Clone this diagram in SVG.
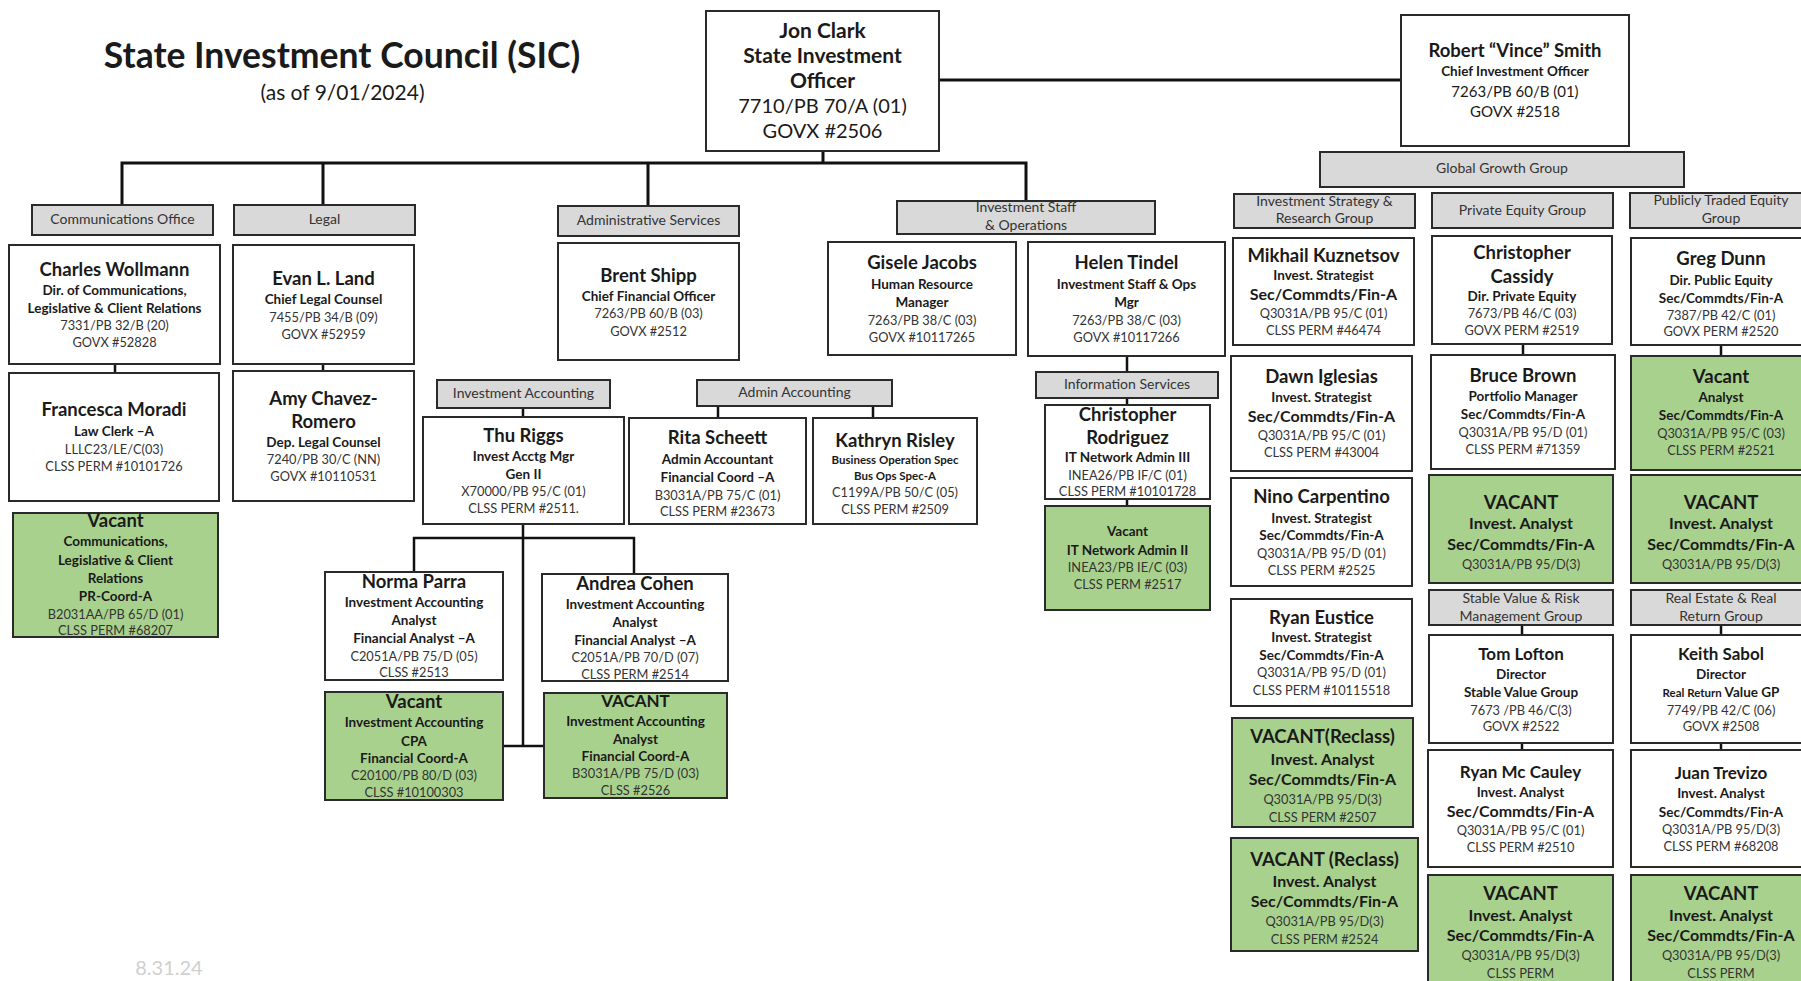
<svg xmlns="http://www.w3.org/2000/svg" width="1801" height="981" viewBox="0 0 1801 981">
<style>
text{font-family:Lato,"Open Sans","Liberation Sans",sans-serif;text-anchor:middle;fill:#1a1a1a}
.n{font-size:18.5px;font-weight:bold}
.n2{font-size:17px;font-weight:bold}
.t{font-size:13.5px;font-weight:bold}
.t2{font-size:16px;font-weight:bold}
.ts{font-size:11.5px;font-weight:bold}
.c{font-size:12.8px;fill:#333}
.h{font-size:14px;fill:#333}
.b{fill:#fff;stroke:#2a2a2a;stroke-width:2}
.g{fill:#a9d18e;stroke:#2a2a2a;stroke-width:2}
.hd{fill:#d9d9d9;stroke:#2a2a2a;stroke-width:2}
.ln{fill:none;stroke:#111;stroke-width:3}
.ln2{fill:none;stroke:#111;stroke-width:2.5}
</style>
<rect width="1801" height="981" fill="#fff"/>
<g id="title">
<text x="342" y="68" style="font-size:35.5px;font-weight:bold">State Investment Council (SIC)</text>
<text x="342.5" y="100" style="font-size:21px">(as of 9/01/2024)</text>
<text x="169" y="975" style="font-size:20px;fill:#cfcfcf">8.31.24</text>
</g>
<g id="connectors">
<path class="ln" d="M823,151V163M122,205V163H1026V201M323,163V205M648,163V206M939,80H1401"/>
<path class="ln2" d="M115,364V373M323,364V371M523,408V417M718,406V418M873,406V418M523,524V746M414,572V538H634V574M503,746H545M1127,356V372M1127,398V405M1127,499V506M1523,344V355M1721,345V356M1522,625V635M1522,743V750M1721,625V635M1721,743V750"/>
</g>
<g id="jon-clark"><rect class="b" x="706" y="11" width="233" height="140"/>
<text x="822.5" y="38" style="font-size:21px;font-weight:bold">Jon Clark</text>
<text x="822.5" y="63" style="font-size:21px;font-weight:bold">State Investment</text>
<text x="822.5" y="88" style="font-size:21px;font-weight:bold">Officer</text>
<text x="822.5" y="113" style="font-size:20px">7710/PB 70/A (01)</text>
<text x="822.5" y="138" style="font-size:20px">GOVX #2506</text></g>
<g id="robert-smith"><rect class="b" x="1401" y="15" width="228" height="131"/>
<text x="1515" y="57" class="n">Robert “Vince” Smith</text>
<text x="1515" y="76" class="t">Chief Investment Officer</text>
<text x="1515" y="97" style="font-size:15px">7263/PB 60/B (01)</text>
<text x="1515" y="117" style="font-size:15px">GOVX #2518</text></g>
<g id="hdr-comms"><rect class="hd" x="32" y="205" width="181" height="30"/><text x="122.5" y="224" class="h">Communications Office</text></g>
<g id="hdr-legal"><rect class="hd" x="234" y="205" width="181" height="30"/><text x="324.5" y="224" class="h">Legal</text></g>
<g id="hdr-admin"><rect class="hd" x="558" y="206" width="181" height="30"/><text x="648.5" y="225" class="h">Administrative Services</text></g>
<g id="hdr-invstaff"><rect class="hd" x="897" y="201" width="258" height="33"/><text x="1026" y="212" class="h">Investment Staff</text><text x="1026" y="230" class="h">&amp; Operations</text></g>
<g id="hdr-global"><rect class="hd" x="1320" y="152" width="364" height="35"/><text x="1502" y="173" class="h">Global Growth Group</text></g>
<g id="hdr-strategy"><rect class="hd" x="1234" y="194" width="181" height="34"/><text x="1324.5" y="206" class="h">Investment Strategy &amp;</text><text x="1324.5" y="223" class="h">Research Group</text></g>
<g id="hdr-pe"><rect class="hd" x="1432" y="193" width="181" height="35"/><text x="1522.5" y="215" class="h">Private Equity Group</text></g>
<g id="hdr-pt"><rect class="hd" x="1630" y="193" width="182" height="35"/><text x="1721" y="205" class="h">Publicly Traded Equity</text><text x="1721" y="223" class="h">Group</text></g>
<g id="hdr-invacc"><rect class="hd" x="437" y="380" width="173" height="28"/><text x="523.5" y="398" class="h">Investment Accounting</text></g>
<g id="hdr-adminacc"><rect class="hd" x="697" y="380" width="195" height="26"/><text x="794.5" y="397" class="h">Admin Accounting</text></g>
<g id="hdr-info"><rect class="hd" x="1036" y="372" width="182" height="26"/><text x="1127" y="389" class="h">Information Services</text></g>
<g id="hdr-stable"><rect class="hd" x="1429" y="590" width="184" height="35"/><text x="1521" y="603" class="h">Stable Value &amp; Risk</text><text x="1521" y="621" class="h">Management Group</text></g>
<g id="hdr-realestate"><rect class="hd" x="1631" y="590" width="181" height="35"/><text x="1721" y="603" class="h">Real Estate &amp; Real</text><text x="1721" y="621" class="h">Return Group</text></g>
<g id="charles-wollmann"><rect class="b" x="9" y="245" width="211" height="119"/>
<text x="114.5" y="276" class="n">Charles Wollmann</text>
<text x="114.5" y="295" class="t">Dir. of Communications,</text>
<text x="114.5" y="313" class="t">Legislative &amp; Client Relations</text>
<text x="114.5" y="330" class="c">7331/PB 32/B (20)</text>
<text x="114.5" y="347" class="c">GOVX #52828</text></g>
<g id="evan-land"><rect class="b" x="233" y="245" width="181" height="119"/>
<text x="323.5" y="285" class="n">Evan L. Land</text>
<text x="323.5" y="304" class="t">Chief Legal Counsel</text>
<text x="323.5" y="322" class="c">7455/PB 34/B (09)</text>
<text x="323.5" y="339" class="c">GOVX #52959</text></g>
<g id="francesca-moradi"><rect class="b" x="9" y="373" width="210" height="128"/>
<text x="114" y="416" class="n">Francesca Moradi</text>
<text x="114" y="436" class="t">Law Clerk –A</text>
<text x="114" y="454" class="c">LLLC23/LE/C(03)</text>
<text x="114" y="471" class="c">CLSS PERM #10101726</text></g>
<g id="amy-chavez-romero"><rect class="b" x="233" y="371" width="181" height="130"/>
<text x="323.5" y="405" class="n">Amy Chavez-</text>
<text x="323.5" y="428" class="n">Romero</text>
<text x="323.5" y="447" class="t">Dep. Legal Counsel</text>
<text x="323.5" y="464" class="c">7240/PB 30/C (NN)</text>
<text x="323.5" y="481" class="c">GOVX #10110531</text></g>
<g id="vacant-comms"><rect class="g" x="13" y="513" width="205" height="124"/>
<text x="115.5" y="527" class="n">Vacant</text>
<text x="115.5" y="546" class="t">Communications,</text>
<text x="115.5" y="565" class="t">Legislative &amp; Client</text>
<text x="115.5" y="583" class="t">Relations</text>
<text x="115.5" y="601" class="t">PR-Coord-A</text>
<text x="115.5" y="619" class="c">B2031AA/PB 65/D (01)</text>
<text x="115.5" y="635" class="c">CLSS PERM #68207</text></g>
<g id="brent-shipp"><rect class="b" x="558" y="243" width="181" height="117"/>
<text x="648.5" y="282" class="n">Brent Shipp</text>
<text x="648.5" y="301" class="t">Chief Financial Officer</text>
<text x="648.5" y="318" class="c">7263/PB 60/B (03)</text>
<text x="648.5" y="336" class="c">GOVX #2512</text></g>
<g id="gisele-jacobs"><rect class="b" x="828" y="242" width="188" height="113"/>
<text x="922" y="269" class="n">Gisele Jacobs</text>
<text x="922" y="289" class="t">Human Resource</text>
<text x="922" y="307" class="t">Manager</text>
<text x="922" y="325" class="c">7263/PB 38/C (03)</text>
<text x="922" y="342" class="c">GOVX #10117265</text></g>
<g id="helen-tindel"><rect class="b" x="1028" y="242" width="197" height="114"/>
<text x="1126.5" y="269" class="n">Helen Tindel</text>
<text x="1126.5" y="289" class="t">Investment Staff &amp; Ops</text>
<text x="1126.5" y="307" class="t">Mgr</text>
<text x="1126.5" y="325" class="c">7263/PB 38/C (03)</text>
<text x="1126.5" y="342" class="c">GOVX #10117266</text></g>
<g id="christopher-rodriguez"><rect class="b" x="1045" y="405" width="165" height="94"/>
<text x="1127.5" y="421" class="n">Christopher</text>
<text x="1127.5" y="444" class="n">Rodriguez</text>
<text x="1127.5" y="462" class="t">IT Network Admin III</text>
<text x="1127.5" y="480" class="c">INEA26/PB IF/C (01)</text>
<text x="1127.5" y="496" class="c">CLSS PERM #10101728</text></g>
<g id="vacant-it"><rect class="g" x="1045" y="506" width="165" height="104"/>
<text x="1127.5" y="536" class="t">Vacant</text>
<text x="1127.5" y="555" class="t">IT Network Admin II</text>
<text x="1127.5" y="572" class="c">INEA23/PB IE/C (03)</text>
<text x="1127.5" y="589" class="c">CLSS PERM #2517</text></g>
<g id="thu-riggs"><rect class="b" x="423" y="417" width="201" height="107"/>
<text x="523.5" y="442" class="n">Thu Riggs</text>
<text x="523.5" y="461" class="t">Invest Acctg Mgr</text>
<text x="523.5" y="479" class="t">Gen II</text>
<text x="523.5" y="496" class="c">X70000/PB 95/C (01)</text>
<text x="523.5" y="513" class="c">CLSS PERM #2511.</text></g>
<g id="rita-scheett"><rect class="b" x="629" y="418" width="177" height="106"/>
<text x="717.5" y="444" class="n">Rita Scheett</text>
<text x="717.5" y="464" class="t">Admin Accountant</text>
<text x="717.5" y="482" class="t">Financial Coord –A</text>
<text x="717.5" y="500" class="c">B3031A/PB 75/C (01)</text>
<text x="717.5" y="516" class="c">CLSS PERM #23673</text></g>
<g id="kathryn-risley"><rect class="b" x="813" y="418" width="164" height="106"/>
<text x="895" y="447" class="n">Kathryn Risley</text>
<text x="895" y="464" class="ts">Business Operation Spec</text>
<text x="895" y="480" class="ts">Bus Ops Spec-A</text>
<text x="895" y="497" class="c">C1199A/PB 50/C (05)</text>
<text x="895" y="514" class="c">CLSS PERM #2509</text></g>
<g id="norma-parra"><rect class="b" x="325" y="572" width="178" height="108"/>
<text x="414" y="588" class="n">Norma Parra</text>
<text x="414" y="607" class="t">Investment Accounting</text>
<text x="414" y="625" class="t">Analyst</text>
<text x="414" y="643" class="t">Financial Analyst –A</text>
<text x="414" y="661" class="c">C2051A/PB 75/D (05)</text>
<text x="414" y="677" class="c">CLSS #2513</text></g>
<g id="andrea-cohen"><rect class="b" x="542" y="574" width="186" height="107"/>
<text x="635" y="590" class="n">Andrea Cohen</text>
<text x="635" y="609" class="t">Investment Accounting</text>
<text x="635" y="627" class="t">Analyst</text>
<text x="635" y="645" class="t">Financial Analyst –A</text>
<text x="635" y="662" class="c">C2051A/PB 70/D (07)</text>
<text x="635" y="679" class="c">CLSS PERM #2514</text></g>
<g id="vacant-cpa"><rect class="g" x="325" y="692" width="178" height="108"/>
<text x="414" y="708" class="n">Vacant</text>
<text x="414" y="727" class="t">Investment Accounting</text>
<text x="414" y="746" class="t">CPA</text>
<text x="414" y="763" class="t">Financial Coord-A</text>
<text x="414" y="780" class="c">C20100/PB 80/D (03)</text>
<text x="414" y="797" class="c">CLSS #10100303</text></g>
<g id="vacant-ia-analyst"><rect class="g" x="544" y="693" width="183" height="105"/>
<text x="635.5" y="707" class="n2">VACANT</text>
<text x="635.5" y="726" class="t">Investment Accounting</text>
<text x="635.5" y="744" class="t">Analyst</text>
<text x="635.5" y="761" class="t">Financial Coord-A</text>
<text x="635.5" y="778" class="c">B3031A/PB 75/D (03)</text>
<text x="635.5" y="795" class="c">CLSS #2526</text></g>
<g id="mikhail-kuznetsov"><rect class="b" x="1233" y="238" width="181" height="107"/>
<text x="1323.5" y="262" class="n">Mikhail Kuznetsov</text>
<text x="1323.5" y="280" class="t">Invest. Strategist</text>
<text x="1323.5" y="300" class="t2">Sec/Commdts/Fin-A</text>
<text x="1323.5" y="318" class="c">Q3031A/PB 95/C (01)</text>
<text x="1323.5" y="335" class="c">CLSS PERM #46474</text></g>
<g id="dawn-iglesias"><rect class="b" x="1231" y="356" width="181" height="115"/>
<text x="1321.5" y="383" class="n">Dawn Iglesias</text>
<text x="1321.5" y="402" class="t">Invest. Strategist</text>
<text x="1321.5" y="422" class="t2">Sec/Commdts/Fin-A</text>
<text x="1321.5" y="440" class="c">Q3031A/PB 95/C (01)</text>
<text x="1321.5" y="457" class="c">CLSS PERM #43004</text></g>
<g id="nino-carpentino"><rect class="b" x="1231" y="478" width="181" height="108"/>
<text x="1321.5" y="503" class="n">Nino Carpentino</text>
<text x="1321.5" y="523" class="t">Invest. Strategist</text>
<text x="1321.5" y="540" class="t">Sec/Commdts/Fin-A</text>
<text x="1321.5" y="558" class="c">Q3031A/PB 95/D (01)</text>
<text x="1321.5" y="575" class="c">CLSS PERM #2525</text></g>
<g id="ryan-eustice"><rect class="b" x="1231" y="599" width="181" height="107"/>
<text x="1321.5" y="624" class="n">Ryan Eustice</text>
<text x="1321.5" y="642" class="t">Invest. Strategist</text>
<text x="1321.5" y="660" class="t">Sec/Commdts/Fin-A</text>
<text x="1321.5" y="677" class="c">Q3031A/PB 95/D (01)</text>
<text x="1321.5" y="695" class="c">CLSS PERM #10115518</text></g>
<g id="vacant-reclass-2507"><rect class="g" x="1232" y="718" width="181" height="109"/>
<text x="1322.5" y="743" class="n">VACANT(Reclass)</text>
<text x="1322.5" y="765" class="t2">Invest. Analyst</text>
<text x="1322.5" y="785" class="t2">Sec/Commdts/Fin-A</text>
<text x="1322.5" y="804" class="c">Q3031A/PB 95/D(3)</text>
<text x="1322.5" y="822" class="c">CLSS PERM #2507</text></g>
<g id="vacant-reclass-2524"><rect class="g" x="1231" y="838" width="187" height="113"/>
<text x="1324.5" y="866" class="n">VACANT (Reclass)</text>
<text x="1324.5" y="887" class="t2">Invest. Analyst</text>
<text x="1324.5" y="907" class="t2">Sec/Commdts/Fin-A</text>
<text x="1324.5" y="926" class="c">Q3031A/PB 95/D(3)</text>
<text x="1324.5" y="944" class="c">CLSS PERM #2524</text></g>
<g id="christopher-cassidy"><rect class="b" x="1432" y="236" width="180" height="108"/>
<text x="1522" y="259" class="n">Christopher</text>
<text x="1522" y="283" class="n">Cassidy</text>
<text x="1522" y="301" class="t">Dir. Private Equity</text>
<text x="1522" y="318" class="c">7673/PB 46/C (03)</text>
<text x="1522" y="335" class="c">GOVX PERM #2519</text></g>
<g id="greg-dunn"><rect class="b" x="1631" y="238" width="182" height="107"/>
<text x="1721" y="265" class="n">Greg Dunn</text>
<text x="1721" y="285" class="t">Dir. Public Equity</text>
<text x="1721" y="303" class="t">Sec/Commdts/Fin-A</text>
<text x="1721" y="320" class="c">7387/PB 42/C (01)</text>
<text x="1721" y="336" class="c">GOVX PERM #2520</text></g>
<g id="bruce-brown"><rect class="b" x="1431" y="355" width="184" height="114"/>
<text x="1523" y="382" class="n">Bruce Brown</text>
<text x="1523" y="401" class="t">Portfolio Manager</text>
<text x="1523" y="419" class="t">Sec/Commdts/Fin-A</text>
<text x="1523" y="437" class="c">Q3031A/PB 95/D (01)</text>
<text x="1523" y="454" class="c">CLSS PERM #71359</text></g>
<g id="vacant-analyst-2521"><rect class="g" x="1631" y="356" width="182" height="114"/>
<text x="1721" y="383" class="n">Vacant</text>
<text x="1721" y="402" class="t">Analyst</text>
<text x="1721" y="420" class="t">Sec/Commdts/Fin-A</text>
<text x="1721" y="438" class="c">Q3031A/PB 95/C (03)</text>
<text x="1721" y="455" class="c">CLSS PERM #2521</text></g>
<g id="vacant-pe"><rect class="g" x="1429" y="475" width="184" height="108"/>
<text x="1521" y="509" class="n">VACANT</text>
<text x="1521" y="529" class="t2">Invest. Analyst</text>
<text x="1521" y="550" class="t2">Sec/Commdts/Fin-A</text>
<text x="1521" y="569" class="c">Q3031A/PB 95/D(3)</text></g>
<g id="vacant-pt"><rect class="g" x="1631" y="475" width="182" height="108"/>
<text x="1721" y="509" class="n">VACANT</text>
<text x="1721" y="529" class="t2">Invest. Analyst</text>
<text x="1721" y="550" class="t2">Sec/Commdts/Fin-A</text>
<text x="1721" y="569" class="c">Q3031A/PB 95/D(3)</text></g>
<g id="tom-lofton"><rect class="b" x="1429" y="635" width="184" height="108"/>
<text x="1521" y="660" class="n2">Tom Lofton</text>
<text x="1521" y="679" class="t">Director</text>
<text x="1521" y="697" class="t">Stable Value Group</text>
<text x="1521" y="715" class="c">7673 /PB 46/C(3)</text>
<text x="1521" y="731" class="c">GOVX #2522</text></g>
<g id="keith-sabol"><rect class="b" x="1631" y="635" width="182" height="108"/>
<text x="1721" y="660" class="n2">Keith Sabol</text>
<text x="1721" y="679" class="t">Director</text>
<text x="1721" y="697" class="t"><tspan style="font-size:11.5px">Real Return</tspan> Value GP</text>
<text x="1721" y="715" class="c">7749/PB 42/C (06)</text>
<text x="1721" y="731" class="c">GOVX #2508</text></g>
<g id="ryan-mccauley"><rect class="b" x="1428" y="750" width="185" height="117"/>
<text x="1520.5" y="778" class="n2">Ryan Mc Cauley</text>
<text x="1520.5" y="797" class="t">Invest. Analyst</text>
<text x="1520.5" y="817" class="t2">Sec/Commdts/Fin-A</text>
<text x="1520.5" y="835" class="c">Q3031A/PB 95/C (01)</text>
<text x="1520.5" y="852" class="c">CLSS PERM #2510</text></g>
<g id="juan-trevizo"><rect class="b" x="1631" y="750" width="182" height="117"/>
<text x="1721" y="779" class="n2">Juan Trevizo</text>
<text x="1721" y="798" class="t">Invest. Analyst</text>
<text x="1721" y="817" class="t">Sec/Commdts/Fin-A</text>
<text x="1721" y="834" class="c">Q3031A/PB 95/D(3)</text>
<text x="1721" y="851" class="c">CLSS PERM #68208</text></g>
<g id="vacant-bottom-1"><rect class="g" x="1428" y="875" width="185" height="115"/>
<text x="1520.5" y="900" class="n">VACANT</text>
<text x="1520.5" y="921" class="t2">Invest. Analyst</text>
<text x="1520.5" y="941" class="t2">Sec/Commdts/Fin-A</text>
<text x="1520.5" y="960" class="c">Q3031A/PB 95/D(3)</text>
<text x="1520.5" y="978" class="c">CLSS PERM</text></g>
<g id="vacant-bottom-2"><rect class="g" x="1631" y="875" width="182" height="115"/>
<text x="1721" y="900" class="n">VACANT</text>
<text x="1721" y="921" class="t2">Invest. Analyst</text>
<text x="1721" y="941" class="t2">Sec/Commdts/Fin-A</text>
<text x="1721" y="960" class="c">Q3031A/PB 95/D(3)</text>
<text x="1721" y="978" class="c">CLSS PERM</text></g>
</svg>
